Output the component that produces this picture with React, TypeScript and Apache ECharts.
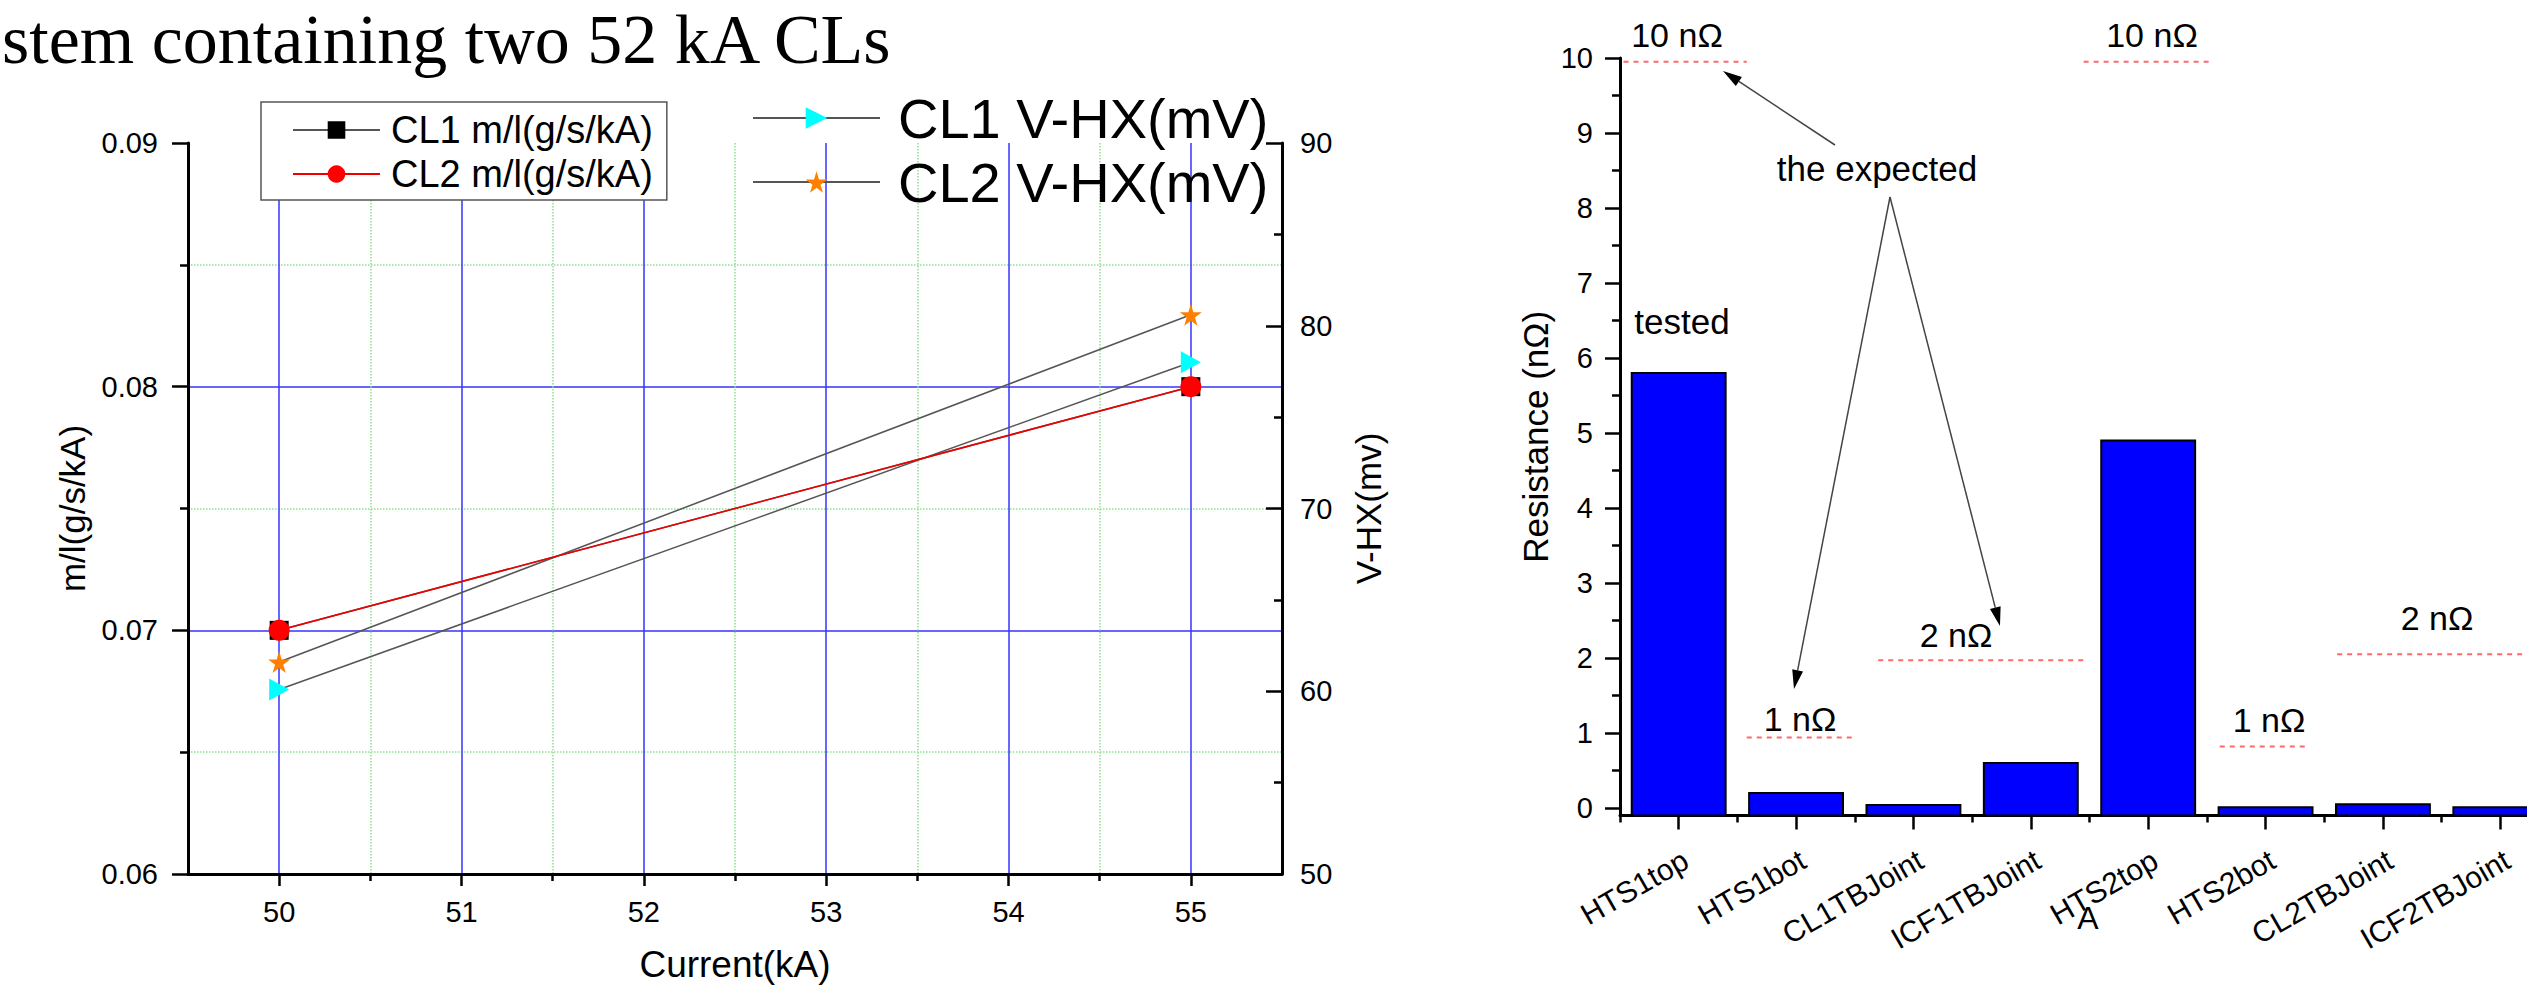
import React, { useEffect, useRef } from 'react';
import * as echarts from 'echarts';

// ---------------- data ----------------
const currents = [50, 55];
const cl1Flow = [0.07, 0.08];
const cl2Flow = [0.07, 0.08];
const cl1Volt = [60.1, 78.0];
const cl2Volt = [61.6, 80.6];

const currentTicks = [50, 51, 52, 53, 54, 55];
const currentMinorTicks = [50.5, 51.5, 52.5, 53.5, 54.5];

const joints = ['HTS1top', 'HTS1bot', 'CL1TBJoint', 'ICF1TBJoint', 'HTS2top', 'HTS2bot', 'CL2TBJoint', 'ICF2TBJoint'];
const resistances = [5.8, 0.2, 0.04, 0.6, 4.9, 0.01, 0.05, 0.01];
const resistanceTicks = [0, 1, 2, 3, 4, 5, 6, 7, 8, 9, 10];
const resistanceMinorTicks = [0.5, 1.5, 2.5, 3.5, 4.5, 5.5, 6.5, 7.5, 8.5, 9.5];

const expectedLabels = ['10 nΩ', '1 nΩ', '2 nΩ', '10 nΩ', '1 nΩ', '2 nΩ'];
const expectedLevels = [9.95, 0.94, 1.97, 9.95, 0.82, 2.05];

// ---------------- layout ----------------
const RES_MIN = -0.1;
const expectedSpans = [[-0.47, 0.58], [0.58, 1.475], [1.7, 3.47], [3.45, 4.53], [4.61, 5.36], [5.61, 7.4]];
const expectedLabelPos = [[1677, 35], [1800, 719], [1956, 635], [2152, 35], [2269, 720], [2437, 618]];

const FONT = '"Liberation Sans", Arial, sans-serif';
const TRI = 'path://M0,0L10,5L0,10Z';
const STAR = 'path://M50,0L61,35L98,35L68,57L79,91L50,70L21,91L32,57L2,35L39,35Z';

function arrow(x0: number, y0: number, x1: number, y1: number) {
  const a = Math.atan2(y1 - y0, x1 - x0);
  const len = 19, hw = 5.5;
  const bx = x1 - len * Math.cos(a), by = y1 - len * Math.sin(a);
  const px = -Math.sin(a) * hw, py = Math.cos(a) * hw;
  return [
    { type: 'line', shape: { x1: x0, y1: y0, x2: bx, y2: by }, style: { stroke: '#444', lineWidth: 1.5 } },
    { type: 'polygon', shape: { points: [[x1, y1], [bx + px, by + py], [bx - px, by - py]] }, style: { fill: '#000' } },
  ];
}

function txt(text: string, x: number, y: number, size: number, align = 'center', family = FONT) {
  return { type: 'text', x, y, style: { text, fontSize: size, fontFamily: family, fill: '#000', align, verticalAlign: 'middle' } };
}

const blackTick = { color: '#000', width: 2.5 };

const option: any = {
  animation: false,
  backgroundColor: '#fff',
  textStyle: { fontFamily: FONT, color: '#000' },
  grid: [
    { left: 188, top: 143, width: 1094, height: 731, containLabel: false, outerBoundsMode: 'none' },
    { left: 1620, top: 58, width: 939, height: 757.5, containLabel: false, outerBoundsMode: 'none' },
  ],
  legend: [
    {
      data: ['CL1 m/l(g/s/kA)', 'CL2 m/l(g/s/kA)'],
      orient: 'vertical', left: 261, top: 102, padding: [9, 14, 7, 31], itemGap: 6,
      itemWidth: 87, itemHeight: 22, borderColor: '#555', borderWidth: 1.5, backgroundColor: '#fff',
      selectedMode: false,
      textStyle: { fontSize: 38, color: '#000', lineHeight: 38, padding: [0, 0, 0, 6] },
    },
    {
      data: ['CL1 V-HX(mV)', 'CL2 V-HX(mV)'],
      orient: 'vertical', left: 752, top: 90, padding: 0, itemGap: 8,
      itemWidth: 127, itemHeight: 27, selectedMode: false,
      textStyle: { fontSize: 56, color: '#000', lineHeight: 56, padding: [0, 0, 0, 13] },
    },
  ],
  xAxis: [
    {
      type: 'value', gridIndex: 0, min: 49.5, max: 55.5, position: 'bottom',
      name: 'Current(kA)', nameLocation: 'middle', nameGap: 72, nameMoveOverlap: false,
      nameTextStyle: { fontSize: 37, color: '#000' },
      axisLine: { show: true, onZero: false, lineStyle: { color: '#000', width: 3 } },
      axisTick: { show: true, customValues: currentTicks, length: 12, lineStyle: blackTick },
      axisLabel: { customValues: currentTicks, fontSize: 29, color: '#000', margin: 23 },
      splitLine: { show: true, lineStyle: { color: '#3535ff', width: 1.5 } },
    },
    {
      type: 'value', gridIndex: 0, min: 49.5, max: 55.5, position: 'bottom',
      axisLine: { show: false, onZero: false },
      axisTick: { show: true, customValues: currentMinorTicks, length: 7, lineStyle: blackTick },
      axisLabel: { show: false },
      splitLine: { show: true, lineStyle: { color: '#8fe08f', width: 1.5, type: 'dotted' } },
    },
    {
      type: 'category', gridIndex: 1, data: joints, position: 'bottom', boundaryGap: true,
      axisLine: { show: true, onZero: false, lineStyle: { color: '#000', width: 3 } },
      axisTick: { show: true, alignWithLabel: true, interval: 0, length: 14, lineStyle: blackTick },
      axisLabel: { interval: 0, rotate: 30, fontSize: 30, color: '#000', margin: 46, padding: [0, -8, 0, 0] },
      splitLine: { show: false },
    },
    {
      type: 'category', gridIndex: 1, data: joints, position: 'bottom', boundaryGap: true,
      axisLine: { show: false, onZero: false },
      axisTick: { show: true, interval: 0, length: 7, lineStyle: blackTick },
      axisLabel: { show: false },
      splitLine: { show: false },
    },
    { type: 'value', gridIndex: 1, min: -0.5, max: 7.5, show: false, axisLine: { onZero: false } },
  ],
  yAxis: [
    {
      type: 'value', gridIndex: 0, min: 0.06, max: 0.09, interval: 0.01, position: 'left',
      name: 'm/l(g/s/kA)', nameLocation: 'middle', nameGap: 98, nameRotate: 90, nameMoveOverlap: false,
      nameTextStyle: { fontSize: 35, color: '#000' },
      axisLine: { show: true, onZero: false, lineStyle: { color: '#000', width: 3 } },
      axisTick: { show: true, length: 16, lineStyle: blackTick },
      minorTick: { show: true, splitNumber: 2, length: 8, lineStyle: blackTick },
      axisLabel: { fontSize: 29, color: '#000', margin: 30, formatter: (v: number) => v.toFixed(2) },
      splitLine: { show: true, showMaxLine: false, lineStyle: { color: '#3535ff', width: 1.5 } },
      minorSplitLine: { show: true, lineStyle: { color: '#8fe08f', width: 1.5, type: 'dotted' } },
    },
    {
      type: 'value', gridIndex: 0, min: 50, max: 90, interval: 10, position: 'right',
      name: 'V-HX(mv)', nameLocation: 'middle', nameGap: 69, nameRotate: 90, nameMoveOverlap: false,
      nameTextStyle: { fontSize: 35, color: '#000' },
      axisLine: { show: true, onZero: false, lineStyle: { color: '#000', width: 3 } },
      axisTick: { show: true, inside: true, length: 16, lineStyle: blackTick },
      minorTick: { show: true, splitNumber: 2, length: 8, lineStyle: blackTick },
      axisLabel: { fontSize: 29, color: '#000', margin: 18 },
      splitLine: { show: false },
    },
    {
      type: 'value', gridIndex: 1, min: RES_MIN, max: 10, position: 'left',
      name: 'Resistance (nΩ)', nameLocation: 'middle', nameGap: 67, nameRotate: 90, nameMoveOverlap: false,
      nameTextStyle: { fontSize: 35, color: '#000' },
      axisLine: { show: true, onZero: false, lineStyle: { color: '#000', width: 3 } },
      axisTick: { show: true, customValues: resistanceTicks, length: 15, lineStyle: blackTick },
      axisLabel: { customValues: resistanceTicks, fontSize: 29, color: '#000', margin: 27 },
      splitLine: { show: false },
    },
    {
      type: 'value', gridIndex: 1, min: RES_MIN, max: 10, position: 'left',
      axisLine: { show: false, onZero: false },
      axisTick: { show: true, customValues: resistanceMinorTicks, length: 8, lineStyle: blackTick },
      axisLabel: { show: false },
      splitLine: { show: false },
    },
  ],
  series: [
    {
      name: 'CL1 V-HX(mV)', type: 'line', xAxisIndex: 0, yAxisIndex: 1,
      data: currents.map((c, i) => [c, cl1Volt[i]]),
      symbol: TRI, symbolSize: [20, 22],
      lineStyle: { color: '#555', width: 1.5 }, itemStyle: { color: '#00ffff' },
    },
    {
      name: 'CL2 V-HX(mV)', type: 'line', xAxisIndex: 0, yAxisIndex: 1,
      data: currents.map((c, i) => [c, cl2Volt[i]]),
      symbol: STAR, symbolSize: 22,
      lineStyle: { color: '#555', width: 1.5 }, itemStyle: { color: '#ff8000' },
    },
    {
      name: 'CL1 m/l(g/s/kA)', type: 'line', xAxisIndex: 0, yAxisIndex: 0,
      data: currents.map((c, i) => [c, cl1Flow[i]]),
      symbol: 'rect', symbolSize: 19,
      lineStyle: { color: '#555', width: 1.5 }, itemStyle: { color: '#000' },
    },
    {
      name: 'CL2 m/l(g/s/kA)', type: 'line', xAxisIndex: 0, yAxisIndex: 0,
      data: currents.map((c, i) => [c, cl2Flow[i]]),
      symbol: 'circle', symbolSize: 21,
      lineStyle: { color: '#ee0000', width: 1.5 }, itemStyle: { color: '#ff0000' },
    },
    {
      name: 'Resistance', type: 'custom', xAxisIndex: 2, yAxisIndex: 2,
      data: resistances.map((v, i) => [i, v]),
      encode: { x: 0, y: 1 },
      renderItem: (params: any, api: any) => {
        const idx = api.value(0);
        const top = api.coord([idx, api.value(1)]);
        const base = api.coord([idx, RES_MIN]);
        const w = api.size([1, 0])[0] * 0.8;
        return {
          type: 'rect',
          shape: { x: top[0] - w / 2, y: top[1], width: w, height: base[1] - top[1] },
          style: { fill: '#0000ff', stroke: '#000', lineWidth: 2 },
        };
      },
    },
    ...expectedLevels.map((lv, i) => ({
      name: 'expected ' + expectedLabels[i], type: 'line', xAxisIndex: 4, yAxisIndex: 2,
      data: [[expectedSpans[i][0], lv], [expectedSpans[i][1], lv]],
      symbol: 'none', lineStyle: { color: '#ff6a6a', width: 2, type: [5, 5] },
    })),
  ],
  graphic: [
    txt('stem containing two 52 kA CLs', 2, 39, 70, 'left', '"Liberation Serif", "Times New Roman", serif'),
    ...expectedLabels.map((t, i) => txt(t, expectedLabelPos[i][0], expectedLabelPos[i][1], 34)),
    txt('tested', 1682, 321, 35),
    txt('the expected', 1877, 168, 35),
    txt('A', 2088, 918, 32),
    ...arrow(1835, 145, 1723, 71),
    ...arrow(1890, 197, 1794, 689),
    ...arrow(1890, 197, 2000, 626),
  ],
};

export default function App() {
  const ref = useRef<HTMLDivElement>(null);
  useEffect(() => {
    const chart = echarts.init(ref.current!, undefined, { renderer: 'svg', width: 2527, height: 988 });
    chart.setOption(option);
    return () => chart.dispose();
  }, []);
  return (
    <div
      ref={ref}
      style={{ position: 'absolute', left: 0, top: 0, width: 2527, height: 988, background: '#fff', overflow: 'hidden' }}
    />
  );
}
